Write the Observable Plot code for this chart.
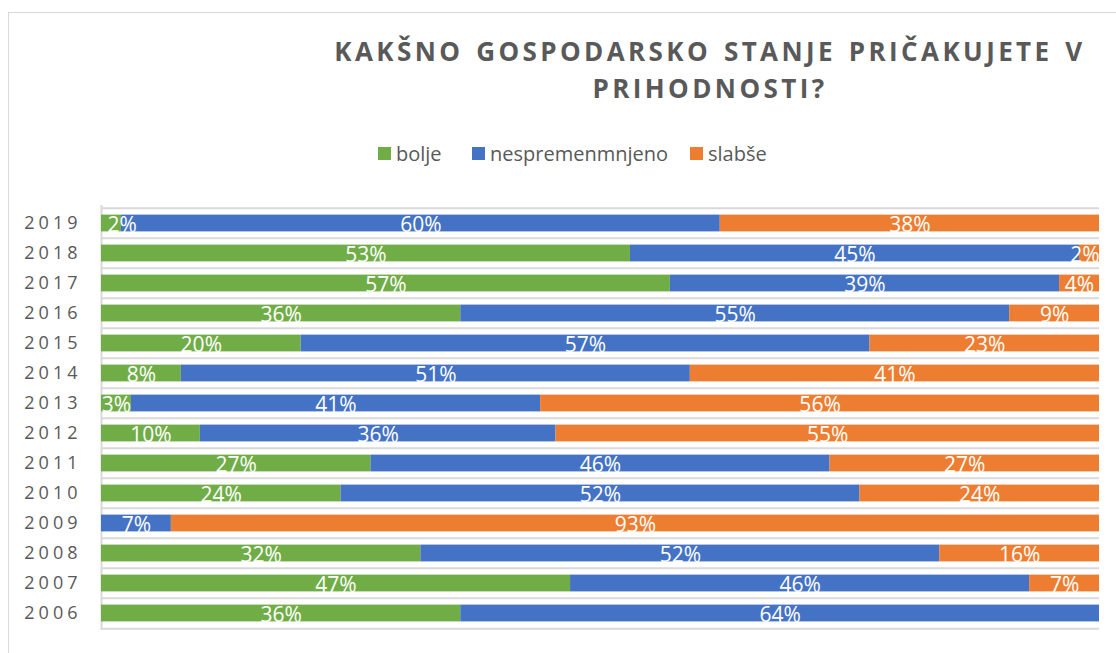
<!DOCTYPE html>
<html>
<head>
<meta charset="utf-8">
<script src="https://cdn.jsdelivr.net/npm/d3@7"></script>
<script src="https://cdn.jsdelivr.net/npm/@observablehq/plot@0.6"></script>
<style>
  html, body { margin: 0; padding: 0; background: #fff; overflow: hidden; width: 1116px; height: 653px; }
  body { position: relative; font-family: "Open Sans", sans-serif; color: #595959; }
  #frame { position: absolute; left: 8px; top: 12px; width: 1300px; height: 900px; border: 1px solid #d9d9d9; box-sizing: border-box; }
  #title { position: absolute; left: 300px; width: 820px; top: 33px; text-align: center; font-weight: 700; font-size: 26px; line-height: 37px; letter-spacing: 3.4px; word-spacing: 2.7px; color: #595959; }
  #legend { position: absolute; top: 140px; left: 0; width: 1116px; height: 26px; }
  .item { position: absolute; top: 0; display: flex; align-items: center; font-size: 20px; color: #595959; height: 26px; }
  .sw { width: 13px; height: 13px; margin-right: 5px; }
  #chart { position: absolute; left: 0; top: 180px; }
  #chart svg { display: block; }
  #chart svg .yax text { letter-spacing: 4px; }
</style>
</head>
<body>
<div id="frame"></div>
<div id="title">KAKŠNO GOSPODARSKO STANJE PRIČAKUJETE V<br>PRIHODNOSTI?</div>
<div id="legend"></div>
<div id="chart"></div>
<script>
// Data
const years = ["2019","2018","2017","2016","2015","2014","2013","2012","2011","2010","2009","2008","2007","2006"];
const categories = ["bolje", "nespremenmnjeno", "slabše"];
const colors = ["#70AD47", "#4472C4", "#ED7D31"];
const bolje =           [2, 53, 57, 36, 20, 8, 3, 10, 27, 24, 0, 32, 47, 36];
const nespremenmnjeno = [60, 45, 39, 55, 57, 51, 41, 36, 46, 52, 7, 52, 46, 64];
const slabse =          [38, 2, 4, 9, 23, 41, 56, 55, 27, 24, 93, 16, 7, 0];
const series = [bolje, nespremenmnjeno, slabse];

const rows = [];
years.forEach((y, i) => {
  categories.forEach((c, j) => rows.push({year: y, cat: c, value: series[j][i]}));
});

// Legend
const legendPos = [378, 472, 690];
const legend = document.getElementById("legend");
categories.forEach((c, j) => {
  const it = document.createElement("div");
  it.className = "item";
  it.style.left = legendPos[j] + "px";
  it.innerHTML = `<span class="sw" style="background:${colors[j]}"></span><span>${c}</span>`;
  legend.appendChild(it);
});

const W = 1116, mT = 25, mB = 21, mL = 101, mR = 17;
const plotH = 425;
const H = mT + plotH + mB;
const step = plotH / years.length;
const grid = "#d9d9d9";

const first = categories[0], last = categories[categories.length - 1];
const tiny = d => d.value > 0 && d.value < 3 && (d.cat === first || d.cat === last);
const lbl = d => d.value + "%";
const stackOpts = {x: "value", y: "year", z: "cat", order: categories, offset: "normalize"};
const textStyle = {fill: "white", fontSize: 21, dy: 2};

const chart = Plot.plot({
  width: W,
  height: H,
  marginLeft: mL,
  marginRight: mR,
  marginTop: mT,
  marginBottom: mB,
  style: {fontFamily: "Open Sans, sans-serif", background: "transparent"},
  x: {domain: [0, 1], axis: null},
  y: {type: "band", domain: years, padding: 0, label: null},
  color: {domain: categories, range: colors},
  marks: [
    Plot.tickY(years, {y: d => d, dy: -step / 2, stroke: grid, strokeWidth: 2}),
    Plot.tickY([years[years.length - 1]], {y: d => d, dy: step / 2, stroke: grid, strokeWidth: 2}),
    Plot.ruleX([0], {stroke: grid, strokeWidth: 2}),
    Plot.barX(rows, Plot.stackX({...stackOpts, fill: "cat", insetTop: 6.6, insetBottom: 6.6})),
    Plot.text(rows, Plot.stackX({...stackOpts, ...textStyle, text: d => d.value && !tiny(d) ? lbl(d) : ""})),
    Plot.text(rows, Plot.stackX1({...stackOpts, ...textStyle, textAnchor: "start", dx: 6,
      text: d => tiny(d) && d.cat === first ? lbl(d) : ""})),
    Plot.text(rows, Plot.stackX2({...stackOpts, ...textStyle, textAnchor: "end", dx: 0,
      text: d => tiny(d) && d.cat === last ? lbl(d) : ""})),
    Plot.axisY({tickSize: 0, tickPadding: 20, fontSize: 18, color: "#595959", className: "yax", label: null})
  ]
});
document.getElementById("chart").appendChild(chart);
</script>
</body>
</html>
